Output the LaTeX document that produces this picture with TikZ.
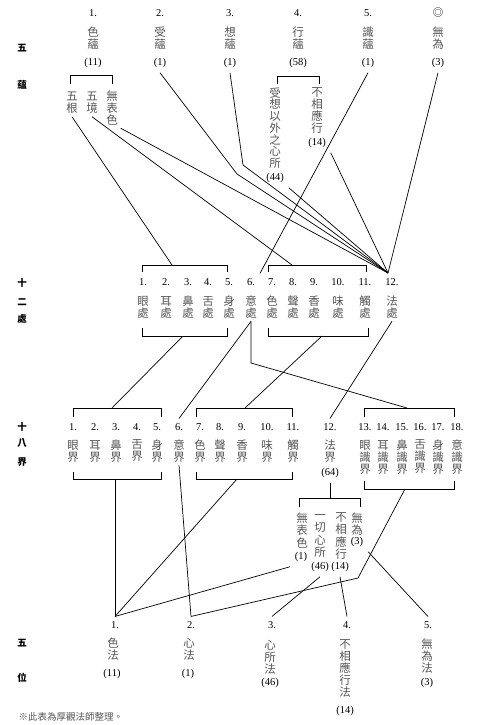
\documentclass[tikz,border=0pt]{standalone}
\usepackage{fontspec}
\setmainfont{Liberation Serif}
\newfontfamily\cjk{Noto Sans CJK TC}
\usetikzlibrary{positioning,calc}
\definecolor{InkGray}{HTML}{555555}

\begin{document}
\begin{tikzpicture}[x=1pt,y=-1pt,line width=.7pt,
  num/.style={font=\fontsize{10.5}{12}\selectfont,inner sep=1pt,outer sep=4pt},
  ch/.style={font=\fontsize{11.5}{12}\cjk,text=InkGray,align=center,inner sep=1pt,outer sep=2pt},
  side/.style={font=\fontsize{9.5}{10}\cjk\bfseries}]
  \useasboundingbox (0,0) rectangle (477,725);

  % 五蘊
  \node[side] (l-wu1) at (22,48) {五};
  \node[side] (l-yun) at (22,85) {蘊};
  \foreach \x/\n/\a/\b/\k [count=\i] in {93/1./色/蘊/11,160/2./受/蘊/1,230/3./想/蘊/1,
      298/4./行/蘊/58,368/5./識/蘊/1,438/{\cjk ◎}/無/為/3}
  {
    \node[num] (sn\i) at (\x,13) {\n};
    \node[ch] (sk\i) at (\x,38) {\a\\\b};
    \node[num] (sc\i) at (\x,63) {(\k)};
  }
  \draw (70,84) -- (70,75) -- (112,75) -- (112,84);
  \node[ch] (wugen) at (72,103) {五\\根};
  \node[ch] (wujing) at (92,103) {五\\境};
  \node[ch] (wubiao) at (112,108) {無\\表\\色};
  \draw (277,84) -- (277,76) -- (319,76) -- (319,84);
  \node[ch,font=\fontsize{11.5}{11.7}\cjk] (sxyi) at (275,128) {受\\想\\以\\外\\之\\心\\所};
  \node[num] (sxyi-c) at (275,178) {(44)};
  \node[ch] (bxy) at (317,111) {不\\相\\應\\行};
  \node[num] (bxy-c) at (317,143) {(14)};

  % 十二處
  \node[side] (l-shi1) at (22,283) {十};
  \node[side] (l-er) at (22,302) {二};
  \node[side] (l-chu) at (22,319) {處};
  \foreach \x/\c [count=\i] in {143/眼,166/耳,188/鼻,208/舌,229/身,251/意,
      272/色,293/聲,314/香,338/味,365/觸,392/法}
  {
    \node[num] (pn\i) at (\x,282) {\i.};
    \node[ch] (pc\i) at (\x,307) {\c\\處};
  }
  \draw (142,272) -- (142,265) -- (227,265) -- (227,272);
  \draw (142,328) -- (142,336) -- (227,336) -- (227,328);
  \draw (268,272) -- (268,265) -- (366,265) -- (366,272);
  \draw (268,328) -- (268,336) -- (368,336) -- (368,328);
  \coordinate (pt-a) at (172,265);
  \coordinate (pt-b) at (292,265);
  \coordinate (pb-a) at (183,336);
  \coordinate (pb-b) at (322,336);
  \coordinate (fa) at (388,273);
  \coordinate (k1) at (237,174);
  \coordinate (k2) at (243,165);

  \draw (wugen.south) -- (pt-a);
  \draw (wujing.south) -- (pt-b);
  \draw (wubiao.south east) -- (fa);
  \draw (sc2.south) -- (k1) -- (fa);
  \draw (sc3.south) -- (k2) -- (fa);
  \draw (sxyi-c.south east) -- (fa);
  \draw (bxy-c.south east) -- (fa);
  \draw (sc5.south) -- (pn6.north east);
  \draw (sc6.south) -- (fa);

  % 十八界
  \node[side] (l-shi2) at (22,427) {十};
  \node[side] (l-ba) at (22,443) {八};
  \node[side] (l-jie) at (22,462) {界};
  \foreach \x/\c [count=\i] in {73/眼,95/耳,116/鼻,137/舌,157/身,179/意,
      200/色,220/聲,242/香,267/味,293/觸,330/法}
  {
    \node[num] (jn\i) at (\x,427) {\i.};
    \node[ch] (jc\i) at (\x,451) {\c\\界};
  }
  \foreach \x/\c [count=\i from 13] in {365/眼,383/耳,402/鼻,420/舌,438/身,457/意}
  {
    \node[num] (jn\i) at (\x,427) {\i.};
    \node[ch] (jc\i) at (\x,457) {\c\\識\\界};
  }
  \node[num] (jc12-c) at (330,473) {(64)};
  \draw (73,417) -- (73,408) -- (161,408) -- (161,417);
  \draw (73,472) -- (73,479) -- (161,479) -- (161,472);
  \draw (196,417) -- (196,408) -- (292,408) -- (292,417);
  \draw (196,472) -- (196,479) -- (292,479) -- (292,472);
  \draw (364,417) -- (364,408) -- (454,408) -- (454,417);
  \draw (364,481) -- (364,489) -- (454,489) -- (454,481);
  \coordinate (jt-a) at (112,408);
  \coordinate (jt-b) at (245,408);
  \coordinate (jt-c) at (407,408);
  \coordinate (jb-a) at (115,479);
  \coordinate (jb-b) at (237,479);
  \coordinate (jb-c) at (405,489);
  \coordinate (k3) at (251,363);

  \draw (pb-a) -- (jt-a);
  \draw (pc6.south) -- (jn6.north);
  \draw (pc6.south) -- (k3) -- (jt-c);
  \draw (pb-b) -- (jt-b);
  \draw (pc12.south) -- (jn12.north);

  % 法界 split
  \coordinate (fj) at (330,498);
  \draw (jc12-c.south) -- (fj);
  \draw (299,507) -- (299,498) -- (360,498) -- (360,507);
  \node[ch,font=\fontsize{11.5}{12.5}\cjk] (fw1) at (302,530) {無\\表\\色};
  \node[num] (fw1-c) at (301,557) {(1)};
  \node[ch,font=\fontsize{11.5}{12.5}\cjk] (fw2) at (320,536) {一\\切\\心\\所};
  \node[num] (fw2-c) at (320,567) {(46)};
  \node[ch,font=\fontsize{11.5}{12.5}\cjk] (fw3) at (341,536) {不\\相\\應\\行};
  \node[num] (fw3-c) at (340,567) {(14)};
  \node[ch,font=\fontsize{11.5}{12.5}\cjk] (fw4) at (357,524) {無\\為};
  \node[num] (fw4-c) at (357,542) {(3)};

  % 五位
  \node[side] (l-wu2) at (22,643) {五};
  \node[side] (l-wei) at (22,678) {位};
  \node[num] (wn1) at (115,625) {1.};
  \node[ch] (wc1) at (113,649) {色\\法};
  \node[num] (wk1) at (112,674) {(11)};
  \node[num] (wn2) at (191,625) {2.};
  \node[ch] (wc2) at (189,649) {心\\法};
  \node[num] (wk2) at (188,674) {(1)};
  \node[num] (wn3) at (272,625) {3.};
  \node[ch] (wc3) at (270,657) {心\\所\\法};
  \node[num] (wk3) at (270,683) {(46)};
  \node[num] (wn4) at (347,625) {4.};
  \node[ch] (wc4) at (345,669) {不\\相\\應\\行\\法};
  \node[num] (wk4) at (345,711) {(14)};
  \node[num] (wn5) at (428,625) {5.};
  \node[ch] (wc5) at (427,656) {無\\為\\法};
  \node[num] (wk5) at (427,683) {(3)};
  \coordinate (k4) at (358,578);

  \draw (jb-a) -- (wn1.north);
  \draw (jb-b) -- (wn1.north);
  \draw (fw1-c.south west) -- (wn1.north);
  \draw (jc6.south) -- (wn2.north);
  \draw (jb-c) -- (k4) -- (wn2.north);
  \draw (fw2-c.south) -- (wn3.north);
  \draw (fw3-c.south) -- (wn4.north);
  \draw (fw4-c.south east) -- (wn5.north);

  \node[font=\fontsize{9.5}{10}\cjk,text=InkGray,anchor=west] (note) at (15,717) {※此表為厚觀法師整理。};
\end{tikzpicture}
\end{document}
